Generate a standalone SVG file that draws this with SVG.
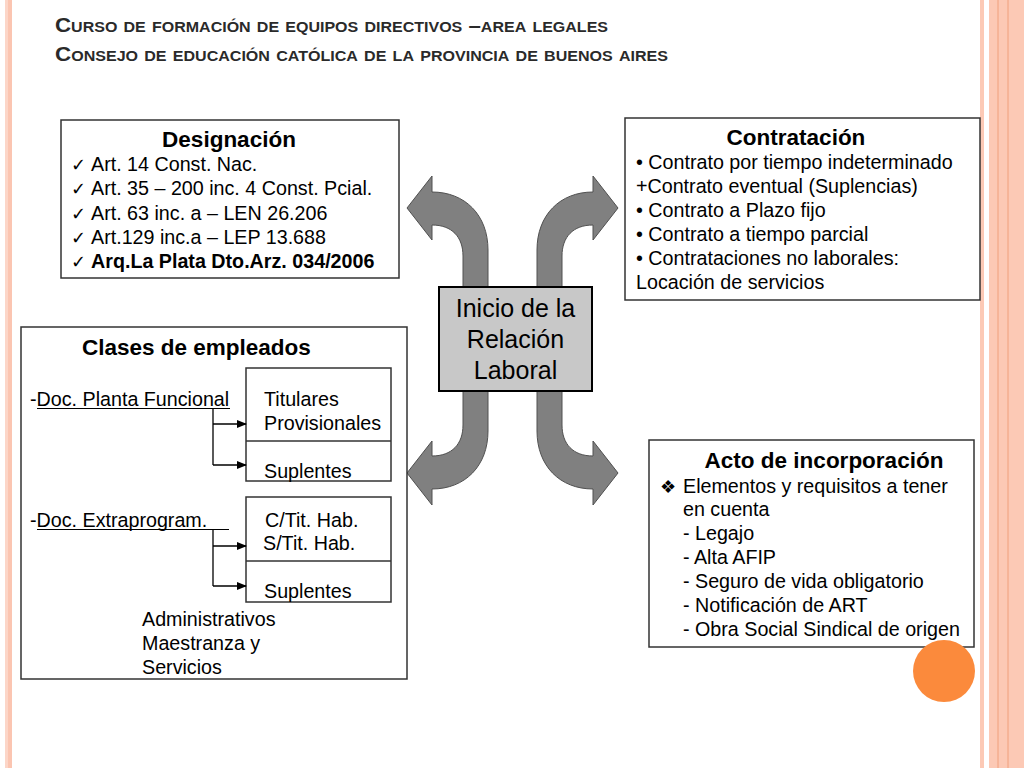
<svg xmlns="http://www.w3.org/2000/svg" width="1024" height="768" viewBox="0 0 1024 768">
<defs>
<style>
text{font-family:"Liberation Sans",Arial,sans-serif;fill:#000}
.t{font-size:19.7px}
.b{font-size:22.5px;font-weight:bold}
.sym{font-family:"DejaVu Sans",sans-serif;font-size:18px}
.box{fill:#fff;stroke:#333;stroke-width:1.5}
.arr{fill:#808080;stroke:#505050;stroke-width:1}
.ttl{font-size:19.5px;font-variant:small-caps;font-weight:bold;fill:#2a2a2a}
.con{stroke:#000;stroke-width:1.3;fill:none}
</style>
<marker id="ah" markerWidth="10" markerHeight="8" refX="9" refY="4" orient="auto" markerUnits="userSpaceOnUse">
<path d="M0,0 L10,4 L0,8 Z" fill="#000"/>
</marker>
<path id="carrow" class="arr" d="M463,290 L463,256 C463,237 452,225 432,225 L432,240 L407,208 L432,176 L432,192 C465,192 488,215 488,250 L488,290 Z"/>
</defs>
<rect width="1024" height="768" fill="#fff"/>
<g id="decor">
<rect x="5" y="0" width="7" height="768" fill="#fcd6c8"/>
<rect x="8" y="0" width="4" height="768" fill="#fbc5b1"/>
<rect x="980" y="0" width="4" height="768" fill="#fcc9b5"/>
<rect x="989" y="0" width="35" height="768" fill="#fcc9b5"/>
<line x1="998" y1="0" x2="998" y2="768" stroke="#f0a07c" stroke-width="1"/>
<line x1="1008" y1="0" x2="1008" y2="768" stroke="#f0a07c" stroke-width="1"/>
</g>
<g id="title">
<text class="ttl" x="55" y="32" textLength="553" lengthAdjust="spacingAndGlyphs">Curso de formación de equipos directivos –area legales</text>
<text class="ttl" x="55" y="61" textLength="613" lengthAdjust="spacingAndGlyphs">Consejo de educación católica de la provincia de buenos aires</text>
</g>
<g id="connectors">
<use href="#carrow"/>
<use href="#carrow" transform="translate(1025,0) scale(-1,1)"/>
<use href="#carrow" transform="translate(0,681) scale(1,-1)"/>
<use href="#carrow" transform="translate(1025,681) scale(-1,-1)"/>
</g>
<g id="inicio">
<rect x="439" y="287" width="153" height="104" fill="#c8c8c8" stroke="#000" stroke-width="2"/>
<text x="515.5" y="317" text-anchor="middle" font-size="25">Inicio de la</text>
<text x="515.5" y="348" text-anchor="middle" font-size="25">Relación</text>
<text x="515.5" y="379" text-anchor="middle" font-size="25">Laboral</text>
</g>
<g id="designacion">
<rect class="box" x="61" y="120" width="338" height="158"/>
<text class="b" x="229" y="147" text-anchor="middle">Designación</text>
<text class="sym" x="71" y="171">✓</text><text class="t" x="91" y="171">Art. 14 Const. Nac.</text>
<text class="sym" x="71" y="195">✓</text><text class="t" x="91" y="195">Art. 35 – 200 inc. 4 Const. Pcial.</text>
<text class="sym" x="71" y="220">✓</text><text class="t" x="91" y="220">Art. 63 inc. a – LEN 26.206</text>
<text class="sym" x="71" y="244">✓</text><text class="t" x="91" y="244">Art.129 inc.a – LEP 13.688</text>
<text class="sym" x="71" y="268">✓</text><text class="t" x="91" y="268" font-weight="bold">Arq.La Plata Dto.Arz. 034/2006</text>
</g>
<g id="contratacion">
<rect class="box" x="625" y="118" width="355" height="182"/>
<text class="b" x="796" y="145" text-anchor="middle">Contratación</text>
<text class="t" x="636" y="169">• Contrato por tiempo indeterminado</text>
<text class="t" x="636" y="193">+Contrato eventual (Suplencias)</text>
<text class="t" x="636" y="217">• Contrato a Plazo fijo</text>
<text class="t" x="636" y="241">• Contrato a tiempo parcial</text>
<text class="t" x="636" y="265">• Contrataciones no laborales:</text>
<text class="t" x="636" y="289">Locación de servicios</text>
</g>
<g id="clases">
<rect class="box" x="21" y="327" width="386" height="352"/>
<text class="b" x="82" y="355">Clases de empleados</text>
<text class="t" x="30" y="406">-Doc. Planta Funcional</text>
<line x1="37" y1="408.5" x2="230" y2="408.5" stroke="#000" stroke-width="1.2"/>
<text class="t" x="30" y="527">-Doc. Extraprogram.</text>
<line x1="37" y1="529.5" x2="229" y2="529.5" stroke="#000" stroke-width="1.2"/>
<text class="t" x="142" y="626">Administrativos</text>
<text class="t" x="142" y="650">Maestranza y</text>
<text class="t" x="142" y="674">Servicios</text>
</g>
<g id="planta-tipos">
<rect class="box" x="246" y="368" width="145" height="113"/>
<line x1="246" y1="441" x2="391" y2="441" stroke="#333" stroke-width="1.5"/>
<text class="t" x="264" y="406">Titulares</text>
<text class="t" x="264" y="430">Provisionales</text>
<text class="t" x="264" y="478">Suplentes</text>
</g>
<g id="extra-tipos">
<rect class="box" x="246" y="497" width="145" height="105"/>
<line x1="246" y1="561" x2="391" y2="561" stroke="#333" stroke-width="1.5"/>
<text class="t" x="265" y="527">C/Tit. Hab.</text>
<text class="t" x="263" y="550">S/Tit. Hab.</text>
<text class="t" x="264" y="598">Suplentes</text>
</g>
<g id="clases-connectors">
<path class="con" d="M213,409 V465"/>
<path class="con" d="M213,424 H246" marker-end="url(#ah)"/>
<path class="con" d="M213,465 H246" marker-end="url(#ah)"/>
<path class="con" d="M213,530 V586"/>
<path class="con" d="M213,546 H246" marker-end="url(#ah)"/>
<path class="con" d="M213,586 H246" marker-end="url(#ah)"/>
</g>
<g id="acto">
<rect class="box" x="649" y="440" width="325" height="207"/>
<text class="b" x="824" y="468" text-anchor="middle">Acto de incorporación</text>
<text class="sym" x="660" y="493" font-size="16" fill="#333">❖</text>
<text class="t" x="683" y="493">Elementos y requisitos a tener</text>
<text class="t" x="683" y="516">en cuenta</text>
<text class="t" x="683" y="540">- Legajo</text>
<text class="t" x="683" y="564">- Alta AFIP</text>
<text class="t" x="683" y="588">- Seguro de vida obligatorio</text>
<text class="t" x="683" y="612">- Notificación de ART</text>
<text class="t" x="683" y="636">- Obra Social Sindical de origen</text>
</g>
<circle id="dot" cx="944" cy="671" r="31" fill="#fb8a3c"/>
</svg>
